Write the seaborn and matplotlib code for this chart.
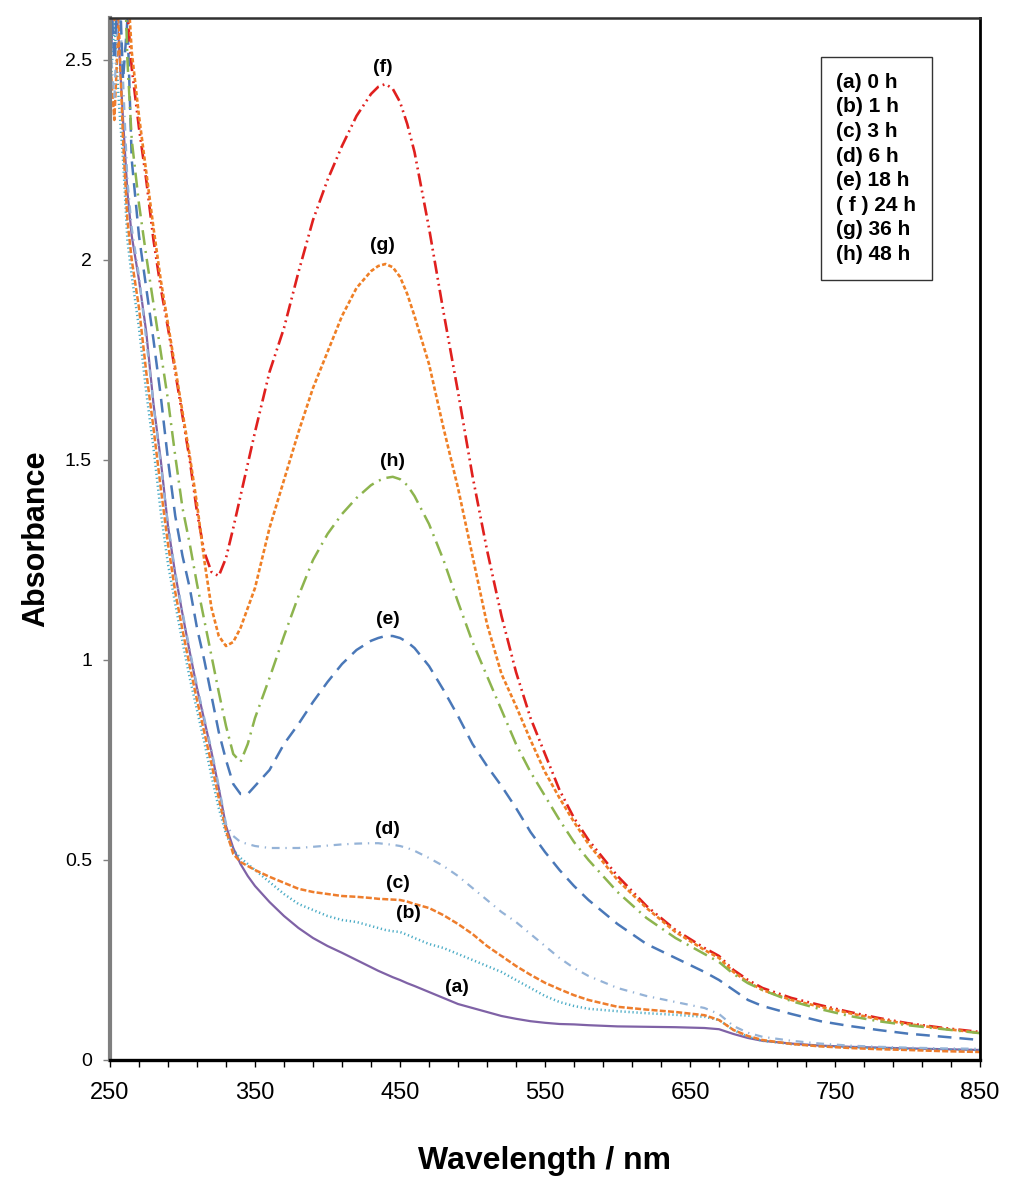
import matplotlib
matplotlib.use("Agg")
import matplotlib.pyplot as plt
import seaborn as sns
import pandas as pd
import numpy as np
from matplotlib.lines import Line2D
from matplotlib.ticker import FixedLocator

# ---------------- data ----------------
wavelength = [250, 253, 256, 259, 262, 265, 270, 275, 280, 285, 290, 295, 300, 305, 310,
              315, 320, 325, 330, 335, 340, 345, 350, 360, 370, 380, 390, 400, 410, 420,
              430, 435, 440, 445, 450, 455, 460, 470, 480, 490, 500, 510, 520, 530, 540, 550, 560, 570,
              580, 600, 620, 640, 660, 670, 680, 690, 700, 720, 740, 760, 780, 800, 825, 850]

abs_a = [2.45, 2.70, 2.55, 2.35, 2.17, 2.06, 1.95, 1.82, 1.64, 1.50, 1.335, 1.215, 1.115, 1.02, 0.93,
         0.85, 0.77, 0.68, 0.585, 0.53, 0.49, 0.46, 0.435, 0.395, 0.36, 0.33, 0.305, 0.285, 0.268, 0.25,
         0.232, 0.223, 0.215, 0.207, 0.20, 0.192, 0.185, 0.17, 0.155, 0.14, 0.13, 0.12, 0.11, 0.103, 0.097, 0.093, 0.09, 0.089,
         0.087, 0.084, 0.083, 0.082, 0.08, 0.077, 0.065, 0.055, 0.048, 0.041, 0.036, 0.033, 0.031, 0.029, 0.027, 0.025]

abs_b = [2.40, 2.60, 2.40, 2.25, 2.05, 1.96, 1.83, 1.67, 1.53, 1.37, 1.24, 1.14, 1.045, 0.955, 0.875,
         0.795, 0.71, 0.63, 0.565, 0.525, 0.505, 0.49, 0.475, 0.445, 0.415, 0.39, 0.375, 0.36, 0.35, 0.345,
         0.335, 0.33, 0.325, 0.322, 0.32, 0.313, 0.305, 0.29, 0.28, 0.265, 0.25, 0.235, 0.22, 0.20, 0.18, 0.16, 0.145, 0.135,
         0.128, 0.122, 0.117, 0.113, 0.108, 0.10, 0.075, 0.058, 0.048, 0.04, 0.035, 0.032, 0.03, 0.028, 0.026, 0.025]

abs_c = [2.50, 2.35, 2.60, 2.30, 2.10, 2.00, 1.88, 1.72, 1.58, 1.43, 1.29, 1.17, 1.075, 0.985, 0.90,
         0.82, 0.74, 0.655, 0.575, 0.515, 0.495, 0.485, 0.475, 0.458, 0.443, 0.428, 0.42, 0.415, 0.41, 0.408,
         0.405, 0.403, 0.402, 0.401, 0.40, 0.396, 0.39, 0.38, 0.362, 0.34, 0.315, 0.285, 0.26, 0.235, 0.213, 0.193, 0.177, 0.162,
         0.15, 0.133, 0.126, 0.12, 0.112, 0.10, 0.075, 0.06, 0.05, 0.04, 0.034, 0.03, 0.027, 0.025, 0.022, 0.02]

abs_d = [2.55, 2.40, 2.70, 2.45, 2.20, 2.08, 1.96, 1.80, 1.64, 1.49, 1.34, 1.22, 1.12, 1.025, 0.935,
         0.855, 0.775, 0.685, 0.59, 0.56, 0.545, 0.54, 0.535, 0.53, 0.53, 0.53, 0.533, 0.536, 0.539, 0.541,
         0.542, 0.542, 0.54, 0.538, 0.535, 0.53, 0.523, 0.505, 0.485, 0.46, 0.43, 0.40, 0.37, 0.345, 0.315, 0.285, 0.255, 0.23,
         0.21, 0.18, 0.16, 0.145, 0.13, 0.115, 0.085, 0.068, 0.058, 0.048, 0.041, 0.036, 0.033, 0.031, 0.029, 0.028]

abs_e = [2.70, 2.50, 2.75, 2.45, 2.60, 2.25, 2.06, 1.93, 1.80, 1.66, 1.50, 1.36, 1.26, 1.18, 1.08,
         1.00, 0.91, 0.82, 0.75, 0.69, 0.665, 0.665, 0.685, 0.725, 0.79, 0.84, 0.895, 0.945, 0.99, 1.025,
         1.048, 1.055, 1.06, 1.06, 1.055, 1.045, 1.03, 0.985, 0.925, 0.86, 0.79, 0.735, 0.685, 0.63, 0.57, 0.52, 0.475, 0.435,
         0.40, 0.34, 0.29, 0.255, 0.22, 0.20, 0.175, 0.15, 0.135, 0.115, 0.097, 0.085, 0.075, 0.066, 0.058, 0.05]

abs_f = [2.70, 2.90, 2.80, 2.75, 2.62, 2.48, 2.33, 2.20, 2.05, 1.93, 1.83, 1.72, 1.61, 1.50, 1.37,
         1.27, 1.22, 1.21, 1.255, 1.33, 1.41, 1.49, 1.57, 1.72, 1.83, 1.97, 2.10, 2.20, 2.285, 2.36,
         2.415, 2.433, 2.44, 2.428, 2.395, 2.34, 2.27, 2.08, 1.87, 1.67, 1.46, 1.275, 1.11, 0.97, 0.855, 0.765, 0.675, 0.605,
         0.55, 0.46, 0.385, 0.325, 0.28, 0.26, 0.225, 0.20, 0.18, 0.155, 0.137, 0.12, 0.105, 0.092, 0.08, 0.07]

abs_g = [2.75, 2.60, 2.90, 2.80, 2.70, 2.52, 2.36, 2.22, 2.08, 1.95, 1.84, 1.73, 1.62, 1.51, 1.39,
         1.25, 1.13, 1.06, 1.035, 1.045, 1.08, 1.13, 1.18, 1.33, 1.45, 1.57, 1.68, 1.77, 1.86, 1.93,
         1.972, 1.985, 1.99, 1.982, 1.958, 1.915, 1.86, 1.74, 1.58, 1.43, 1.26, 1.09, 0.965, 0.885, 0.80, 0.72, 0.655, 0.595,
         0.54, 0.45, 0.38, 0.32, 0.275, 0.255, 0.22, 0.195, 0.175, 0.15, 0.133, 0.117, 0.102, 0.09, 0.078, 0.068]

abs_h = [2.60, 2.80, 2.65, 2.85, 2.50, 2.30, 2.14, 2.01, 1.89, 1.77, 1.65, 1.51, 1.38, 1.29, 1.19,
         1.10, 1.01, 0.92, 0.835, 0.765, 0.745, 0.79, 0.855, 0.955, 1.06, 1.16, 1.25, 1.315, 1.365, 1.405,
         1.437, 1.448, 1.455, 1.458, 1.452, 1.437, 1.41, 1.34, 1.25, 1.145, 1.045, 0.96, 0.875, 0.79, 0.72, 0.66, 0.60, 0.545,
         0.50, 0.42, 0.355, 0.305, 0.265, 0.245, 0.215, 0.192, 0.175, 0.147, 0.127, 0.11, 0.097, 0.087, 0.077, 0.067]

series_keys = ["a", "b", "c", "d", "e", "f", "g", "h"]
legend_labels = ["(a) 0 h", "(b) 1 h", "(c) 3 h", "(d) 6 h", "(e) 18 h", "( f ) 24 h", "(g) 36 h", "(h) 48 h"]
curve_labels = ["(a)", "(b)", "(c)", "(d)", "(e)", "(f)", "(g)", "(h)"]
label_wl = [489, 455.5, 448.6, 441, 441.7, 438.3, 438, 445]
label_abs = [0.18, 0.3675, 0.44, 0.575, 1.10, 2.4825, 2.035, 1.495]

x_tick_values = [250, 350, 450, 550, 650, 750, 850]
y_tick_values = [0, 0.5, 1, 1.5, 2, 2.5]
y_tick_labels = ["0", "0.5", "1", "1.5", "2", "2.5"]

all_abs = [abs_a, abs_b, abs_c, abs_d, abs_e, abs_f, abs_g, abs_h]
df = pd.DataFrame({
    "wavelength": wavelength * len(series_keys),
    "absorbance": [v for s in all_abs for v in s],
    "series": [k for k in series_keys for _ in wavelength],
})

# ---------------- styling ----------------
sns.set_style("white")
plt.rcParams["font.family"] = ["Liberation Sans", "DejaVu Sans"]
plt.rcParams["text.color"] = "black"
plt.rcParams["axes.labelcolor"] = "black"
plt.rcParams["xtick.color"] = "black"
plt.rcParams["ytick.color"] = "black"

palette = {"a": "#7F62A6", "b": "#4BACC6", "c": "#EE7D2C", "d": "#95B3D7",
           "e": "#4A78B8", "f": "#E0201E", "g": "#EF7F25", "h": "#8DB44E"}
dashes = {"a": "", "b": (0.5, 1.1), "c": (2.4, 0.9), "d": (3.5, 2.6, 0.6, 2.6),
          "e": (5.5, 3.2), "f": (5.0, 1.6, 0.7, 1.6, 0.7, 1.6), "g": (1.6, 0.9),
          "h": (6.0, 2.4, 0.8, 2.4)}
widths = {"a": 1.6, "b": 1.8, "c": 1.8, "d": 1.6, "e": 1.8, "f": 1.9, "g": 1.9, "h": 1.8}

fig = plt.figure(figsize=(10.24, 11.9), dpi=100)
ax = fig.add_axes([110 / 1024, 130 / 1190, 870 / 1024, 1042 / 1190])

for key in series_keys:
    sub = df[df["series"] == key]
    sns.lineplot(data=sub, x="wavelength", y="absorbance", ax=ax,
                 color=palette[key], linewidth=widths[key], legend=False,
                 estimator=None, dashes=False)
    ln = ax.get_lines()[-1]
    if dashes[key]:
        ln.set_dashes(dashes[key])

ax.set_xlim(250, 850)
ax.set_ylim(0, 2.605)

ax.xaxis.set_major_locator(FixedLocator(x_tick_values))
ax.xaxis.set_minor_locator(FixedLocator(np.arange(250, 851, 20)))
ax.set_xticklabels([str(v) for v in x_tick_values])
ax.yaxis.set_major_locator(FixedLocator(y_tick_values))
ax.set_yticklabels(y_tick_labels)

ax.tick_params(axis="x", which="both", direction="out", length=5, width=1, colors="black",
               labelsize=17, pad=11, bottom=True)
ax.tick_params(axis="y", which="major", direction="out", length=5, width=1, color="#808080",
               labelcolor="black", labelsize=14, pad=8, left=True)

for side, (col, lw) in {"left": ("#7F7F7F", 3.0), "bottom": ("black", 2.4),
                        "top": ("#303030", 1.8), "right": ("black", 2.0)}.items():
    ax.spines[side].set_visible(True)
    ax.spines[side].set_color(col)
    ax.spines[side].set_linewidth(lw)

ax.set_xlabel("Wavelength / nm", fontsize=23, fontweight="bold", labelpad=30)
ax.set_ylabel("Absorbance", fontsize=22, fontweight="bold", labelpad=10)

for lab, xw, ya in zip(curve_labels, label_wl, label_abs):
    ax.text(xw, ya, lab, fontsize=14, fontweight="bold", ha="center", va="center")

handles = [Line2D([], [], linestyle="none") for _ in legend_labels]
leg = ax.legend(handles, legend_labels, loc="upper right",
                bbox_to_anchor=((932 - 110) / 870, (1060 - 57) / 1042),
                borderaxespad=0, frameon=True, fancybox=False, edgecolor="black",
                handlelength=0, handletextpad=0, labelspacing=0.27, borderpad=0.75,
                prop={"size": 15, "weight": "bold"})
leg.get_frame().set_linewidth(1.0)
for h in leg.legend_handles:
    h.set_visible(False)

fig.savefig("out.png", dpi=100, facecolor="white")
